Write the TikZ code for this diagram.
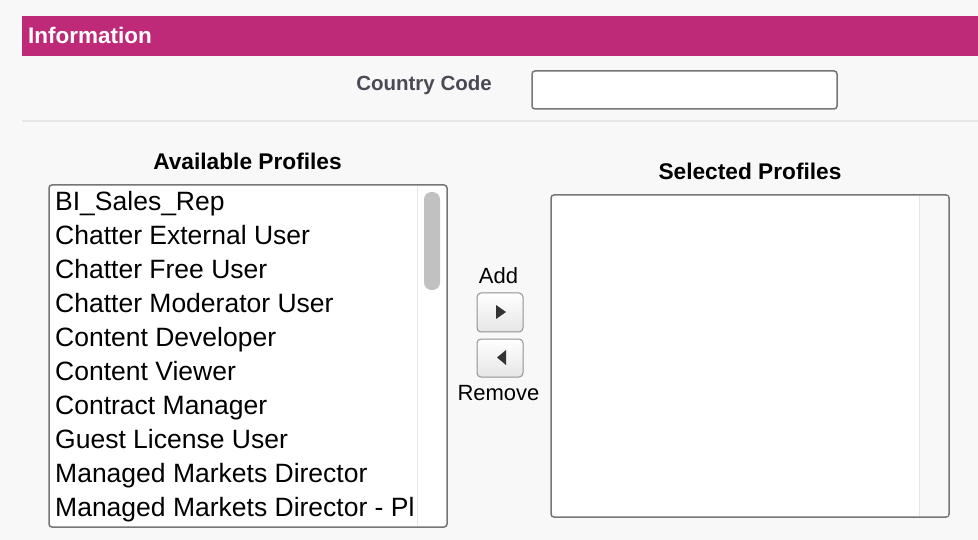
\documentclass[tikz,border=0pt]{standalone}
\usepackage{fontspec}
\setmainfont{Liberation Sans}
\definecolor{bg}{HTML}{F8F8F8}
\definecolor{magenta}{HTML}{BE2A77}
\definecolor{labelgray}{HTML}{4A4A55}
\definecolor{boxborder}{HTML}{767676}
\definecolor{sepline}{HTML}{E6E6E6}
\definecolor{thumb}{HTML}{C1C1C1}
\definecolor{arrowdark}{HTML}{333333}
\tikzset{
  heading/.style={font=\fontsize{22.7}{26}\selectfont\bfseries, text=black, inner sep=0pt, anchor=base},
  item/.style={font=\fontsize{26.5}{30}\selectfont, text=black, inner sep=0pt, anchor=base west},
  btnlabel/.style={font=\fontsize{22}{26}\selectfont, text=black, inner sep=0pt, anchor=base},
  fieldbox/.style={draw=boxborder, line width=1.5pt, fill=white, rounded corners=3pt},
  btnbox/.style={draw=boxborder!80, line width=1pt, top color=white, bottom color=black!10, rounded corners=4pt},
}
\begin{document}
\begin{tikzpicture}[x=1pt,y=-1pt]
\useasboundingbox (0,0) rectangle (978,540);
\fill[bg] (0,0) rectangle (978,540);
% header bar
\fill[magenta] (22,16) rectangle (978,56);
\node[heading, font=\fontsize{22.5}{26}\selectfont\bfseries, text=white, anchor=base west] (info) at (28,44) {Information};
% country code row
\node[font=\fontsize{20.5}{24}\selectfont\bfseries, text=labelgray, inner sep=0pt, anchor=base east] (cclabel) at (492,90.5) {Country Code};
\draw[fieldbox] (532,71) rectangle (837,109);
\draw[sepline, line width=1.5pt] (22,121) -- (978,121);
% available profiles
\node[heading] (availh) at (247.5,170) {Available Profiles};
\draw[fieldbox] (49,185) rectangle (447,527);
\draw[sepline, line width=1pt] (417.5,186) -- (417.5,526);
\fill[thumb, rounded corners=7.5pt] (424,192) rectangle (440,290);
\begin{scope}
\clip (50,186) rectangle (416,526);
\node[item] (i1) at (55,210.5) {BI\_Sales\_Rep};
\node[item] (i2) at (55,244.5) {Chatter External User};
\node[item] (i3) at (55,278.5) {Chatter Free User};
\node[item] (i4) at (55,312.5) {Chatter Moderator User};
\node[item] (i5) at (55,346.5) {Content Developer};
\node[item] (i6) at (55,380.5) {Content Viewer};
\node[item] (i7) at (55,414.5) {Contract Manager};
\node[item] (i8) at (55,448.5) {Guest License User};
\node[item] (i9) at (55,482.5) {Managed Markets Director};
\node[item] (i10) at (55,516.5) {Managed Markets Director - Pl};
\end{scope}
% add / remove
\node[btnlabel] (addl) at (498.5,283.5) {Add};
\draw[btnbox] (477,293) rectangle (523,332);
\fill[arrowdark] (496,305) -- (506,312) -- (496,319) -- cycle;
\draw[btnbox] (477,339) rectangle (523,377);
\fill[arrowdark] (506,350) -- (497,357.5) -- (506,365) -- cycle;
\node[btnlabel] (reml) at (498.5,400.5) {Remove};
% selected profiles
\node[heading] (selh) at (750,179.5) {Selected Profiles};
\draw[fieldbox] (551,195) rectangle (949,517);
\fill[bg] (919.5,196) rectangle (948,516);
\draw[sepline, line width=1pt] (919.5,196) -- (919.5,516);
\end{tikzpicture}
\end{document}
